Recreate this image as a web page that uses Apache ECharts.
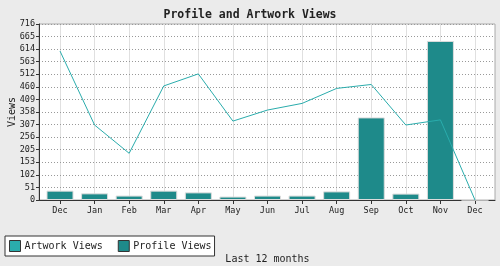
<!DOCTYPE html>
<html>
<head>
<meta charset="utf-8">
<script src="https://cdn.jsdelivr.net/npm/echarts@6/dist/echarts.min.js"></script>
<style>
html,body{margin:0;padding:0;background:#ebebeb;}
#chart{width:500px;height:266px;}
</style>
</head>
<body>
<div id="chart"></div>
<script>
var categories = ['Dec','Jan','Feb','Mar','Apr','May','Jun','Jul','Aug','Sep','Oct','Nov','Dec'];
var artworkViews = [606, 305, 190, 464, 513, 321, 366, 393, 454, 470, 305, 326, 0];
var profileViews = [38, 27, 18, 38, 31, 14, 18, 18, 35, 336, 26, 647, 0];
var yTickLabels = ['0','51','102','153','205','256','307','358','409','460','512','563','614','665','716'];
var yMax = 716;

var mono = 'DejaVu Sans Mono';
var chart = echarts.init(document.getElementById('chart'), null, {renderer: 'canvas'});
chart.setOption({
  backgroundColor: '#ebebeb',
  animation: false,
  title: {
    text: 'Profile and Artwork Views',
    left: 'center',
    top: 4,
    textStyle: {fontFamily: mono, fontSize: 11.5, fontWeight: 'bold', color: '#222'}
  },
  legend: {
    left: 5, top: 236,
    orient: 'horizontal',
    backgroundColor: '#ffffff',
    borderColor: '#333',
    borderWidth: 1,
    borderRadius: 0,
    padding: [4, 3, 4, 4],
    itemWidth: 11, itemHeight: 11, itemGap: 15,
    textStyle: {fontFamily: mono, fontSize: 10, color: '#222', padding: [0,0,0,-1]},
    data: [
      {name: 'Artwork Views', icon: 'rect', itemStyle: {color: '#2aacac', borderColor: '#333', borderWidth: 1}},
      {name: 'Profile Views', icon: 'rect', itemStyle: {color: '#1e8a8a', borderColor: '#333', borderWidth: 1}}
    ]
  },
  grid: [
    {left: 39, right: 5, top: 24, bottom: 66, show: true, backgroundColor: '#ffffff', borderColor: '#aaaaaa', borderWidth: 1, z: -1, outerBoundsMode: 'none', containLabel: false},
    {left: 60, right: 25, top: 24, bottom: 66, outerBoundsMode: 'none', containLabel: false}
  ],
  xAxis: [
    {
      gridIndex: 0, type: 'value', min: 0, max: 1, z: 3,
      axisLine: {show: true, lineStyle: {color: '#333', width: 1}},
      axisTick: {show: false}, axisLabel: {show: false}, splitLine: {show: false}
    },
    {
      gridIndex: 1, type: 'category', data: categories, boundaryGap: false, z: 2,
      axisLine: {show: false},
      axisTick: {show: true, length: 4, lineStyle: {color: '#333'}},
      axisLabel: {fontFamily: mono, fontSize: 8.5, color: '#222', margin: 6},
      splitLine: {show: true, lineStyle: {color: '#e0e0e0', width: 1}},
      name: 'Last 12 months', nameLocation: 'middle', nameGap: 54, nameMoveOverlap: false,
      nameTextStyle: {fontFamily: mono, fontSize: 10, color: '#222'}
    }
  ],
  yAxis: [
    {
      gridIndex: 0, type: 'value', min: 0, max: yMax, interval: yMax / 14, z: 3,
      axisLine: {show: true, lineStyle: {color: '#333', width: 1}},
      axisTick: {show: true, length: 3, lineStyle: {color: '#333'}},
      axisLabel: {fontFamily: mono, fontSize: 8.5, color: '#222', margin: 4,
        formatter: function (v, i) { return yTickLabels[i]; }},
      splitLine: {show: true, lineStyle: {color: '#999', width: 1, type: [1, 2]}},
      name: 'Views', nameLocation: 'middle', nameGap: 22, nameRotate: 90, nameMoveOverlap: false,
      nameTextStyle: {fontFamily: mono, fontSize: 10, color: '#222'}
    },
    {
      gridIndex: 1, type: 'value', min: 0, max: yMax, show: false
    }
  ],
  series: [
    {
      name: 'Profile Views', type: 'bar', xAxisIndex: 1, yAxisIndex: 1,
      data: profileViews, barWidth: 27, clip: false, z: 3,
      itemStyle: {color: '#1e8a8a', borderColor: '#dcdcdc', borderWidth: 1}
    },
    {
      name: 'Artwork Views', type: 'line', xAxisIndex: 1, yAxisIndex: 1,
      data: artworkViews, symbol: 'none', z: 4,
      itemStyle: {color: '#2aacac'},
      lineStyle: {color: '#2aacac', width: 1}
    }
  ]
});
</script>
</body>
</html>
